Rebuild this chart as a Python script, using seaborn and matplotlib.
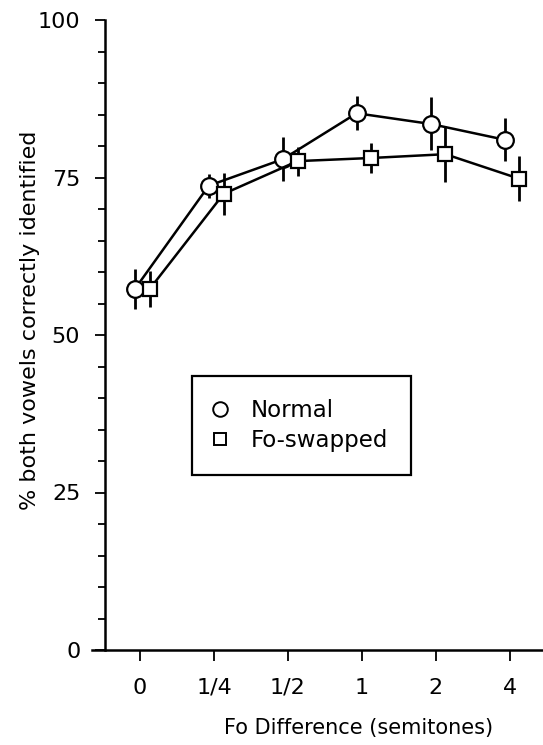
import matplotlib
matplotlib.use('Agg')
import matplotlib.pyplot as plt
from matplotlib.lines import Line2D
from matplotlib.ticker import MultipleLocator

import numpy as np
import pandas as pd
import seaborn as sns

"""Values read off the figure."""
fo_labels = ['0', '1/4', '1/2', '1', '2', '4']
normal = [57.3, 73.7, 77.9, 85.2, 83.5, 81.0]
normal_err = [3.1, 1.9, 3.5, 2.7, 4.2, 3.4]
swapped = [57.3, 72.4, 77.6, 78.1, 78.7, 74.8]
swapped_err = [2.9, 3.3, 2.3, 2.4, 4.4, 3.6]

conditions = ['Normal', 'Fo-swapped']
offsets = {'Normal': -0.07, 'Fo-swapped': 0.13}
markers = {'Normal': 'o', 'Fo-swapped': 's'}
msize = {'Normal': 12, 'Fo-swapped': 10.5}

idx = np.arange(len(fo_labels))
df = pd.concat([
    pd.DataFrame({'pos': idx + offsets['Normal'], 'pct': normal,
                  'err': normal_err, 'condition': 'Normal'}),
    pd.DataFrame({'pos': idx + offsets['Fo-swapped'], 'pct': swapped,
                  'err': swapped_err, 'condition': 'Fo-swapped'}),
], ignore_index=True)

sns.set_style('ticks')
plt.rcParams['font.family'] = ['DejaVu Sans']
for key in ['text.color', 'axes.labelcolor', 'xtick.color', 'ytick.color',
            'axes.edgecolor']:
    plt.rcParams[key] = 'black'

fig = plt.figure(figsize=(5.43, 7.45), dpi=100)
ax = fig.add_axes([92 / 543, 95 / 745, 451 / 543, 630 / 745])

# error bars first so the open markers hide the part inside them
ax.errorbar(df['pos'], df['pct'], yerr=df['err'], fmt='none',
            ecolor='black', elinewidth=2.0, capsize=0, zorder=1)

for cond in conditions:
    sub = df[df['condition'] == cond]
    sns.lineplot(data=sub, x='pos', y='pct', ax=ax, color='black',
                 marker=markers[cond], markersize=msize[cond],
                 markerfacecolor='white', markeredgecolor='black',
                 markeredgewidth=1.6, linewidth=1.8, legend=False,
                 zorder=3)

ax.set_xlim(-0.65, 5.45)
ax.set_ylim(0, 100)
ax.set_xticks(idx)
ax.set_xticklabels(fo_labels)
ax.yaxis.set_major_locator(MultipleLocator(25))
ax.yaxis.set_minor_locator(MultipleLocator(5))

sns.despine(ax=ax)
ax.spines['left'].set_position(('data', -0.47))
ax.spines['left'].set_linewidth(1.8)
ax.spines['bottom'].set_linewidth(1.8)

ax.tick_params(axis='y', which='major', direction='out', length=7,
               width=1.3, pad=11, labelsize=16)
ax.tick_params(axis='y', which='minor', direction='out', length=5,
               width=1.3)
ax.tick_params(axis='x', which='major', direction='out', length=8,
               width=1.3, pad=12, labelsize=16)

ax.set_xlabel('Fo Difference (semitones)', fontsize=15)
ax.set_ylabel('% both vowels correctly identified', fontsize=16)
ax.xaxis.set_label_coords(0.592, -0.108)
ax.yaxis.set_label_coords(-0.115, 0.524)

handles = [Line2D([], [], linestyle='none', marker=markers[c],
                  markersize=msize[c] - 1.5, markerfacecolor='white',
                  markeredgecolor='black', markeredgewidth=1.4)
           for c in conditions]
leg = ax.legend(handles, conditions, loc='upper left',
                bbox_to_anchor=(192 / 543, 1 - 376 / 745),
                bbox_transform=fig.transFigure, frameon=True,
                fancybox=False, edgecolor='black', borderpad=1.0,
                handlelength=0.4, handletextpad=1.15, labelspacing=0.3,
                borderaxespad=0, fontsize=16.5)
leg.get_frame().set_linewidth(1.6)
leg.get_frame().set_alpha(1)

fig.savefig('out.png', dpi=100)
